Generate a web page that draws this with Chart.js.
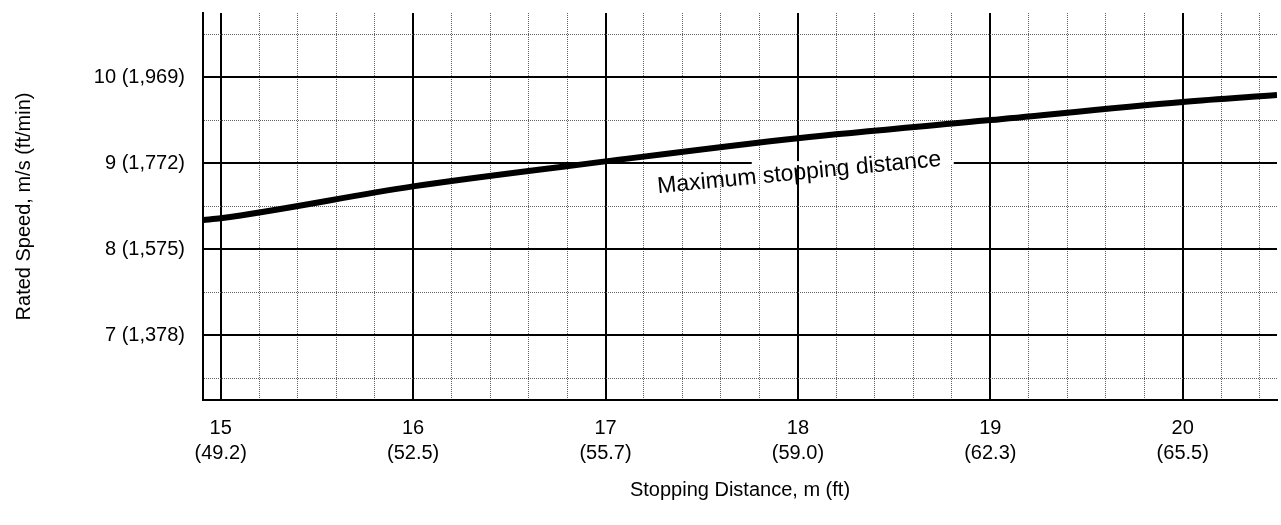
<!DOCTYPE html>
<html lang="en">
<head>
<meta charset="UTF-8">
<title>Rated Speed vs Stopping Distance</title>
<style>
  body { margin: 0; background: #fff; overflow: hidden; }
  #wrap { width: 1281px; height: 525px; }
</style>
</head>
<body>
<div id="wrap"><canvas id="speedChart" width="1281" height="525"></canvas></div>

<script src="https://cdn.jsdelivr.net/npm/chart.js"></script>
<script>
// curve: stopping distance (m) -> rated speed (m/s)
const distances = [14.91, 15, 16, 17, 18, 19, 20, 20.49];
const speeds = [8.34, 8.36, 8.73, 9.02, 9.29, 9.50, 9.71, 9.79];

// labelled ticks
const distTicks = [15, 16, 17, 18, 19, 20];
const distLabels = [['15', '(49.2)'], ['16', '(52.5)'], ['17', '(55.7)'], ['18', '(59.0)'], ['19', '(62.3)'], ['20', '(65.5)']];
const speedTicks = [7, 8, 9, 10];
const speedLabels = ['7 (1,378)', '8 (1,575)', '9 (1,772)', '10 (1,969)'];

// grid divisions (labelled ones are drawn heavy)
const distGrid = [15, 15.2, 15.4, 15.6, 15.8, 16, 16.2, 16.4, 16.6, 16.8, 17, 17.2, 17.4, 17.6, 17.8,
                  18, 18.2, 18.4, 18.6, 18.8, 19, 19.2, 19.4, 19.6, 19.8, 20, 20.2, 20.4];
const speedGrid = [6.5, 7, 7.5, 8, 8.5, 9, 9.5, 10, 10.5];

// annotation
const noteText = 'Maximum stopping distance';
const noteAt = [18.01, 8.81];
const noteGap = [17.76, 18.81]; // piece of the 9 m/s line left out behind the text

const FONT = "'Liberation Sans', Arial, sans-serif";

function findIdx(list, v) {
    return list.findIndex(t => Math.abs(t - v) < 1e-6);
}
function isMajor(ctx, list) {
    return ctx.tick && findIdx(list, ctx.tick.value) >= 0;
}

const noteLabel = {
    id: 'noteLabel',
    beforeDatasetsDraw(chart) {
        const { ctx, scales: { x, y } } = chart;
        const yPix = y.getPixelForValue(9);
        const x0 = x.getPixelForValue(noteGap[0]);
        const x1 = x.getPixelForValue(noteGap[1]);
        ctx.save();
        ctx.fillStyle = '#fff';
        ctx.fillRect(x0, yPix - 2, x1 - x0, 4);
        ctx.restore();
    },
    afterDatasetsDraw(chart) {
        const { ctx, scales: { x, y } } = chart;
        ctx.save();
        ctx.translate(x.getPixelForValue(noteAt[0]), y.getPixelForValue(noteAt[1]));
        ctx.rotate(-5.5 * Math.PI / 180);
        ctx.font = '23px ' + FONT;
        ctx.fillStyle = '#000';
        ctx.textAlign = 'center';
        ctx.textBaseline = 'alphabetic';
        ctx.fillText(noteText, 0, 0);
        ctx.restore();
    }
};

new Chart(document.getElementById('speedChart'), {
    type: 'scatter',
    data: {
        datasets: [{
            data: distances.map((d, i) => ({ x: d, y: speeds[i] })),
            showLine: true,
            borderColor: '#000',
            borderWidth: 6,
            pointRadius: 0,
            cubicInterpolationMode: 'monotone'
        }]
    },
    options: {
        responsive: false,
        animation: false,
        layout: { padding: { top: 13, right: 4, left: 0, bottom: 0 } },
        plugins: { legend: { display: false }, tooltip: { enabled: false } },
        scales: {
            x: {
                type: 'linear',
                min: 14.908,
                max: 20.49,
                afterBuildTicks: scale => { scale.ticks = distGrid.map(v => ({ value: v })); },
                afterFit: scale => {
                    scale.height = 125;
                    scale.paddingLeft = 0;
                    scale.paddingRight = 0;
                },
                ticks: {
                    autoSkip: false,
                    maxRotation: 0,
                    padding: 16,
                    color: '#000',
                    font: { family: FONT, size: 20, lineHeight: 1.25 },
                    callback: v => {
                        const i = findIdx(distTicks, v);
                        return i >= 0 ? distLabels[i] : '';
                    }
                },
                grid: {
                    drawTicks: false,
                    color: ctx => isMajor(ctx, distTicks) ? '#000' : '#606060',
                    lineWidth: ctx => isMajor(ctx, distTicks) ? 2 : 1
                },
                border: {
                    display: true,
                    color: '#000',
                    width: 2,
                    dash: ctx => (ctx.tick && !isMajor(ctx, distTicks)) ? [1, 1] : []
                },
                title: {
                    display: true,
                    text: 'Stopping Distance, m (ft)',
                    color: '#000',
                    font: { family: FONT, size: 20 },
                    padding: { top: 0, bottom: 23 }
                }
            },
            y: {
                type: 'linear',
                min: 6.248,
                max: 10.744,
                afterBuildTicks: scale => { scale.ticks = speedGrid.map(v => ({ value: v })); },
                afterFit: scale => {
                    scale.width = 203;
                    scale.paddingTop = 0;
                    scale.paddingBottom = 0;
                },
                ticks: {
                    autoSkip: false,
                    padding: 18,
                    color: '#000',
                    font: { family: FONT, size: 20 },
                    callback: v => {
                        const i = findIdx(speedTicks, v);
                        return i >= 0 ? speedLabels[i] : '';
                    }
                },
                grid: {
                    drawTicks: false,
                    color: ctx => isMajor(ctx, speedTicks) ? '#000' : '#606060',
                    lineWidth: ctx => isMajor(ctx, speedTicks) ? 2 : 1
                },
                border: {
                    display: true,
                    color: '#000',
                    width: 2,
                    dash: ctx => (ctx.tick && !isMajor(ctx, speedTicks)) ? [1, 1] : []
                },
                title: {
                    display: true,
                    text: 'Rated Speed, m/s (ft/min)',
                    color: '#000',
                    font: { family: FONT, size: 20 },
                    padding: { top: 12, bottom: 0 }
                }
            }
        }
    },
    plugins: [noteLabel]
});
</script>
</body>
</html>
